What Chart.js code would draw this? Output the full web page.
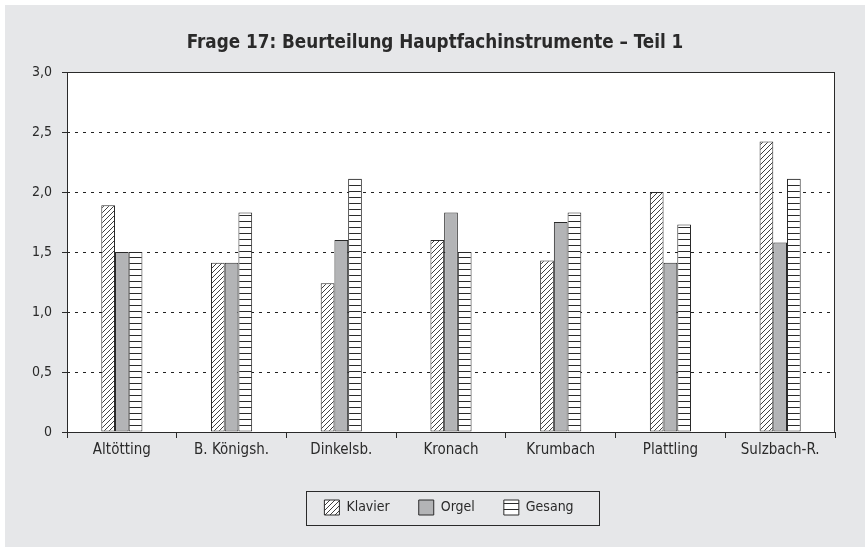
<!DOCTYPE html>
<html>
<head>
<meta charset="utf-8">
<title>Frage 17</title>
<script src="https://cdn.jsdelivr.net/npm/chart.js@4/dist/chart.umd.min.js"></script>
<style>
    html, body { margin: 0; padding: 0; background: #fff; }
    #wrap { width: 865px; height: 547px; }
</style>
</head>
<body>
<div id="wrap"><canvas id="chart" width="865" height="547"></canvas></div>
<script>
// Chart data
const categories = ['Altötting', 'B. Königsh.', 'Dinkelsb.', 'Kronach', 'Krumbach', 'Plattling', 'Sulzbach-R.'];
const klavier = [1.89, 1.41, 1.24, 1.60, 1.43, 2.00, 2.42];
const orgel = [1.50, 1.41, 1.60, 1.83, 1.75, 1.41, 1.58];
const gesang = [1.50, 1.83, 2.11, 1.50, 1.83, 1.73, 2.11];
const yTickLabels = ['0', '0,5', '1,0', '1,5', '2,0', '2,5', '3,0'];
const chartTitle = 'Frage 17: Beurteilung Hauptfachinstrumente – Teil 1';

const FONT = "'DejaVu Sans Condensed', 'DejaVu Sans', sans-serif";
const INK = '#2a2a2a';

const ctx = document.getElementById('chart').getContext('2d');

// Fill patterns for the bars
function diagonalHatch() {
    const c = document.createElement('canvas');
    c.width = 5; c.height = 5;
    const g = c.getContext('2d');
    g.fillStyle = '#fff';
    g.fillRect(0, 0, 5, 5);
    g.strokeStyle = INK;
    g.lineWidth = 0.9;
    g.beginPath();
    g.moveTo(0, 5); g.lineTo(5, 0);
    g.moveTo(-1, 1); g.lineTo(1, -1);
    g.moveTo(4, 6); g.lineTo(6, 4);
    g.stroke();
    return ctx.createPattern(c, 'repeat');
}

function horizontalStripes() {
    const c = document.createElement('canvas');
    c.width = 6; c.height = 6;
    const g = c.getContext('2d');
    g.fillStyle = '#fff';
    g.fillRect(0, 0, 6, 6);
    g.strokeStyle = INK;
    g.lineWidth = 1;
    g.beginPath();
    g.moveTo(0, 5.5); g.lineTo(6, 5.5);
    g.stroke();
    return ctx.createPattern(c, 'repeat');
}

// Gray page, white plot box, frame, y ticks, title and legend frame
const decorations = {
    id: 'decorations',
    afterLayout(chart) {
        // legend sits a bit right of the page centre in the original
        chart.legend.left += 29;
        chart.legend.right += 29;
    },
    beforeDraw(chart) {
        const c = chart.ctx;
        const a = chart.chartArea;
        c.save();
        c.fillStyle = '#fff';
        c.fillRect(0, 0, chart.width, chart.height);
        c.fillStyle = '#e6e7e9';
        c.fillRect(5, 5, chart.width - 5, chart.height - 5);
        c.fillStyle = '#fff';
        c.fillRect(a.left, a.top, a.right - a.left, a.bottom - a.top);
        c.restore();
    },
    afterDraw(chart) {
        const c = chart.ctx;
        const a = chart.chartArea;
        const y = chart.scales.y;
        c.save();
        c.strokeStyle = INK;
        c.lineWidth = 1;
        c.strokeRect(a.left + 0.5, a.top + 0.5, a.right - a.left - 1, a.bottom - a.top);
        // y tick marks outside the axis
        c.beginPath();
        y.ticks.forEach(t => {
            const py = Math.round(y.getPixelForValue(t.value)) + 0.5;
            c.moveTo(a.left - 5, py);
            c.lineTo(a.left + 1, py);
        });
        c.stroke();
        // title
        c.fillStyle = INK;
        c.font = "bold 18.7px " + FONT;
        c.textAlign = 'center';
        c.textBaseline = 'alphabetic';
        c.fillText(chartTitle, 435, 48);
        // legend frame
        const boxes = chart.legend.legendHitBoxes;
        if (boxes && boxes.length) {
            const l = Math.min(...boxes.map(b => b.left));
            const r = Math.max(...boxes.map(b => b.left + b.width));
            const t = boxes[0].top;
            const h = boxes[0].height;
            const mid = (l + r) / 2 + 3;
            c.fillStyle = '#fff';
            c.globalCompositeOperation = 'destination-over';
            c.fillRect(mid - 146, t + h / 2 - 17, 293, 34);
            c.globalCompositeOperation = 'source-over';
            c.strokeRect(Math.round(mid - 146) + 0.5, Math.round(t + h / 2 - 17) + 0.5, 293, 34);
        }
        c.restore();
    }
};

new Chart(ctx, {
    type: 'bar',
    data: {
        labels: categories,
        datasets: [
            { label: 'Klavier', data: klavier, backgroundColor: diagonalHatch() },
            { label: 'Orgel', data: orgel, backgroundColor: '#b3b4b6' },
            { label: 'Gesang', data: gesang, backgroundColor: horizontalStripes() }
        ]
    },
    options: {
        responsive: false,
        animation: false,
        datasets: {
            bar: {
                borderColor: INK,
                borderWidth: 1,
                borderSkipped: false,
                categoryPercentage: 0.375,
                barPercentage: 1
            }
        },
        layout: { padding: { top: 72, left: 5, right: 30, bottom: 22 } },
        plugins: {
            title: { display: false },
            tooltip: { enabled: false },
            legend: {
                position: 'bottom',
                labels: {
                    color: INK,
                    font: { family: FONT, size: 14 },
                    boxWidth: 15,
                    boxHeight: 15,
                    padding: 29
                }
            }
        },
        scales: {
            x: {
                grid: { drawOnChartArea: false, drawTicks: true, tickLength: 6, color: INK, lineWidth: 1 },
                border: { display: false },
                ticks: { color: INK, font: { family: FONT, size: 15 }, padding: 3, maxRotation: 0 },
                afterFit(scale) { scale.height = 39; }
            },
            y: {
                min: 0,
                max: 3,
                grid: { drawTicks: false, color: '#222', lineWidth: 1 },
                border: { display: false, dash: [3, 5] },
                ticks: {
                    stepSize: 0.5,
                    color: INK,
                    font: { family: FONT, size: 14 },
                    padding: 15,
                    callback: (v, i) => yTickLabels[i]
                },
                afterFit(scale) { scale.width = 62; }
            }
        }
    },
    plugins: [decorations]
});
</script>
</body>
</html>
